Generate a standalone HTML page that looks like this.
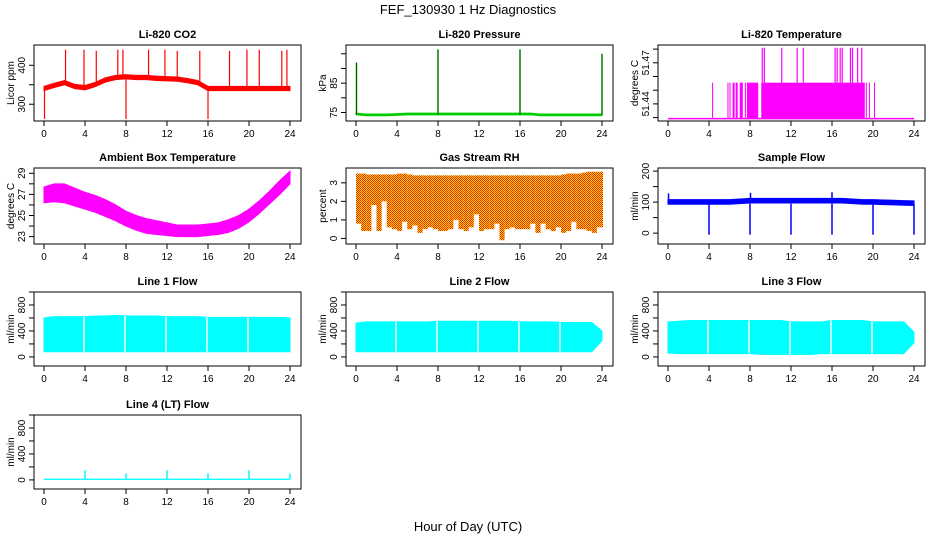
<!DOCTYPE html>
<html><head><meta charset="utf-8"><style>
html,body{margin:0;padding:0;background:#fff}
svg{display:block;font-family:"Liberation Sans",Arial,sans-serif}
.t{font-size:11px;font-weight:bold;text-anchor:middle}
.tk{font-size:10px;text-anchor:middle}
</style></head><body>
<svg id="c" width="936" height="540" viewBox="0 0 936 540" xmlns="http://www.w3.org/2000/svg">
<defs>
<pattern id="rhpat" width="2" height="2" patternUnits="userSpaceOnUse"><rect width="2" height="2" fill="#ffd800"/><rect width="1" height="1" fill="#f02000"/><rect x="1" y="1" width="1" height="1" fill="#f02000"/></pattern>
</defs>
<text x="468" y="14" font-size="13" text-anchor="middle">FEF_130930  1 Hz Diagnostics</text>
<text x="468" y="531" font-size="13" text-anchor="middle">Hour of Day (UTC)</text>
</svg>
<script>
// ---- data ----
const xTicks=[0,4,8,12,16,20,24];
const hours=[0,1,2,3,4,5,6,7,8,9,10,11,12,13,14,15,16,17,18,19,20,21,22,23,24];
const co2Base=[340,348,355,345,342,350,362,368,370,368,368,366,365,364,360,355,340,340,340,340,340,340,340,340,340];
const co2SpikeX=[0.05,2.1,3.9,5.1,7.2,7.7,8.0,10.2,11.8,13.0,15.2,16.0,18.1,19.8,21.0,23.2,23.7];
const co2SpikeY=[262,440,440,437,440,440,262,440,440,437,437,262,437,440,440,437,440];
const presBase=[74.5,74.2,74.2,74.2,74.3,74.5,74.5,74.5,74.5,74.5,74.5,74.5,74.5,74.5,74.5,74.5,74.5,74.5,74.2,74.2,74.2,74.2,74.2,74.2,74.2];
const presSpikeX=[0.05,8,16,24];
const presSpikeY=[92,96.5,96.5,95];
const tempBandStart=[4.3,5.8,6.0,6.3,6.6,7.0,7.5,7.7,9.1,19.3,19.6,20.1];
const tempBandEnd=[4.4,5.9,6.1,6.5,6.8,7.3,7.6,8.8,19.2,19.4,19.7,20.15];
const tempSpikeX=[9.2,9.4,11.1,12.6,13.2,16.3,16.5,16.8,17.0,17.8,18.0,18.5,18.9];
const ambUpper=[27.7,28,28,27.6,27.2,26.9,26.5,26,25.4,25,24.7,24.5,24.3,24.1,24.1,24.1,24.2,24.3,24.6,25,25.6,26.4,27.3,28.3,29.2];
const ambLower=[26.2,26.3,26.2,25.9,25.6,25.3,24.9,24.5,24,23.6,23.3,23.2,23.1,23.0,23.0,23.0,23.1,23.2,23.4,23.8,24.4,25.2,26.1,27,28];
const rhLower=[0.8,0.4,0.4,1.8,0.4,2.0,0.6,0.5,0.4,0.9,0.5,0.7,0.3,0.5,0.6,0.5,0.4,0.4,0.5,1.0,0.5,0.4,0.6,1.3,0.4,0.5,0.5,0.8,-0.1,0.5,0.6,0.5,0.5,0.5,0.8,0.3,0.8,0.5,0.4,0.6,0.3,0.4,0.9,0.5,0.5,0.4,0.3,0.6,0.6];
const rhUpper=[3.5,3.5,3.45,3.45,3.45,3.45,3.45,3.45,3.5,3.5,3.45,3.4,3.4,3.4,3.4,3.4,3.4,3.4,3.4,3.4,3.4,3.4,3.4,3.4,3.4,3.4,3.4,3.4,3.4,3.4,3.4,3.4,3.4,3.4,3.4,3.4,3.4,3.4,3.4,3.4,3.45,3.5,3.5,3.5,3.55,3.6,3.6,3.6,3.6];
const sfBase=[100,100,100,100,100,100,100,102,104,104,104,104,104,104,104,104,104,104,102,100,100,99,98,97,96];
const sfDipX=[4,8,12,16,20,24];
const sfDipY=[-5,-5,-5,-5,-5,-5];
const sfSpikeX=[0.05,8.05,16];
const sfSpikeY=[128,130,132];
const flowGaps=[4,8,12,16,20];
const l1Upper=[600,620,620,620,620,630,630,640,630,630,630,630,620,620,620,620,610,610,610,610,610,610,610,610,600];
const l1Lower=[80,80,80,80,80,80,80,80,80,80,80,80,80,80,80,80,80,80,80,80,80,80,80,80,80];
const l2Upper=[520,540,540,540,540,540,540,540,550,550,550,550,550,550,550,550,540,540,540,540,530,530,530,530,400];
const l2Lower=[80,80,80,80,80,80,80,80,80,80,80,80,80,80,80,80,80,80,80,80,80,80,80,80,250];
const l3Upper=[540,550,560,560,560,560,560,560,560,560,560,560,540,540,540,540,560,560,560,560,540,540,540,540,380];
const l3Lower=[60,50,50,50,50,50,50,50,50,40,40,40,40,40,40,50,50,50,50,50,50,50,50,50,220];
const l4SpikeX=[4,8,12,16,20,24];
const l4SpikeY=[150,100,150,100,150,100];

// ---- helpers ----
const NS="http://www.w3.org/2000/svg";
const svg=document.getElementById('c');
function el(tag,attrs,parent){const e=document.createElementNS(NS,tag);for(const k in attrs)e.setAttribute(k,attrs[k]);(parent||svg).appendChild(e);return e;}
const cols=[34,346,658], rows=[45,168,292,415], W=267, H=[76,76,74,74];
function panel(col,row,title,ylab,ymin,ymax,yTicks,yLabels,name){
  const L=cols[col],T=rows[row],B=T+H[row];
  const g=el('g',{});
  
  
  const sx=h=>L+10+h*(246/24);
  const sy=v=>B-(v-ymin)/(ymax-ymin)*(B-T);
  const plot=el('g',{},g);
  
  
  const bx=el('rect',{x:L,y:T,width:W,height:B-T,fill:'none',stroke:'#000','stroke-width':1},g);
  
  
  const tt=el('text',{x:L+W/2,y:T-7,class:'t'},g);tt.textContent=title;
  
  
  const xa=el('g',{},g);
  
  
  xTicks.forEach(h=>{const x=sx(h);el('line',{x1:x,x2:x,y1:B,y2:B+5,stroke:'#000'},xa);
    const t=el('text',{x:x,y:B+16,class:'tk'},xa);t.textContent=h;});
  const ya=el('g',{},g);
  
  
  yTicks.forEach((v,i)=>{const y=sy(v);el('line',{x1:L-5,x2:L,y1:y,y2:y,stroke:'#000'},ya);
    if(yLabels[i]!==''){const t=el('text',{x:L-9,y:y,class:'tk',transform:`rotate(-90 ${L-9} ${y})`},ya);t.textContent=yLabels[i];}});
  const yl=el('text',{x:L-20,y:(T+B)/2,class:'tk',transform:`rotate(-90 ${L-20} ${(T+B)/2})`},g);yl.textContent=ylab;
  
  
  return {sx,sy,plot,L,T,B};
}
function band(p,xs,lo,hi,fill,nm){
  let d='';
  xs.forEach((x,i)=>{d+=(i?'L':'M')+p.sx(x)+','+p.sy(hi[i]);});
  for(let i=xs.length-1;i>=0;i--)d+='L'+p.sx(xs[i])+','+p.sy(lo[i]);
  const e=el('path',{d:d+'Z',fill:fill,stroke:fill,'stroke-width':1},p.plot);
  
  
  return e;
}
function vline(p,x,y0,y1,col,nm,w){
  const e=el('line',{x1:p.sx(x),x2:p.sx(x),y1:p.sy(y0),y2:p.sy(y1),stroke:col,'stroke-width':w||1.2},p.plot);
  
  
}

// CO2
let p=panel(0,0,'Li-820 CO2','Licor ppm',257,452,[300,350,400],['300','','400'],'co2');
band(p,hours,co2Base.map(v=>v-5),co2Base.map(v=>v+6),'#ff0000','co2-band');
co2SpikeX.forEach((x,i)=>vline(p,x,co2Base[Math.round(x)],co2SpikeY[i],'#ff0000','co2-spike'));
// Pressure
p=panel(1,0,'Li-820 Pressure','kPa',72.1,94.5+3.5,[75,80,85,90,95],['75','','85','',''],'pressure');
band(p,hours,presBase.map(v=>v-0.3),presBase.map(v=>v+0.3),'#00cc00','pressure-band');
presSpikeX.forEach((x,i)=>vline(p,x,74.2,presSpikeY[i],'#00cc00','pressure-spike',1.5));
presSpikeX.forEach((x,i)=>vline(p,x,74.2,presSpikeY[i],'#000','pressure-spike-dots',0.6));
// Temperature
p=panel(2,0,'Li-820 Temperature','degrees C',51.4275,51.4830,[51.43,51.44,51.45,51.46,51.47,51.48],['','51.44','','','51.47',''],'licor-temp');
{const e=el('line',{x1:p.sx(0),x2:p.sx(24),y1:p.sy(51.4292),y2:p.sy(51.4292),stroke:'#ff00ff','stroke-width':1.5},p.plot);

}
tempBandStart.forEach((s,i)=>{const e=el('rect',{x:p.sx(s),y:p.sy(51.4555),width:Math.max(1,p.sx(tempBandEnd[i])-p.sx(s)),height:p.sy(51.4292)-p.sy(51.4555),fill:'#ff00ff'},p.plot);

});
tempSpikeX.forEach(x=>vline(p,x,51.4555,51.481,'#ff00ff','temp-spike'));
// Ambient
p=panel(0,1,'Ambient Box Temperature','degrees C',22.3,29.5,[23,24,25,26,27,28,29],['23','','25','','27','','29'],'ambient');
band(p,hours,ambLower,ambUpper,'#ff00ff','ambient-band');
// RH
p=panel(1,1,'Gas Stream RH','percent',-0.3,3.8,[0,1,2,3],['0','1','2','3'],'rh');
rhLower.forEach((v,i)=>{const x0=p.sx(i*0.5),x1=p.sx(Math.min(24,i*0.5+0.5));
const e=el('rect',{x:x0,y:p.sy(rhUpper[i]),width:Math.max(1,x1-x0),height:p.sy(v)-p.sy(rhUpper[i]),fill:'url(#rhpat)'},p.plot);

});
// Sample flow
p=panel(2,1,'Sample Flow','ml/min',-35,210,[0,50,100,150,200],['0','','100','','200'],'sample-flow');
band(p,hours,sfBase.map(v=>v-7),sfBase.map(v=>v+8),'#0000ff','sample-flow-band');
sfDipX.forEach((x,i)=>vline(p,x,95,sfDipY[i],'#0000ff','sample-flow-dip',1.5));
sfSpikeX.forEach((x,i)=>vline(p,x,100,sfSpikeY[i],'#0000ff','sample-flow-spike',1.5));
// Line flows
function flowPanel(col,row,title,up,lo,name){
  const q=panel(col,row,title,'ml/min',-140,1000,[0,200,400,600,800,1000],['0','','400','','800',''],name);
  band(q,hours,lo,up,'#00ffff',name+'-band');
  flowGaps.forEach(x=>vline(q,x-0.1,lo[x],up[x],'#ffffff',name+'-gap',1.5));
  return q;
}
flowPanel(0,2,'Line 1 Flow',l1Upper,l1Lower,'line1-flow');
flowPanel(1,2,'Line 2 Flow',l2Upper,l2Lower,'line2-flow');
flowPanel(2,2,'Line 3 Flow',l3Upper,l3Lower,'line3-flow');
p=panel(0,3,'Line 4 (LT) Flow','ml/min',-140,1000,[0,200,400,600,800,1000],['0','','400','','800',''],'line4-flow');
{const e=el('rect',{x:p.sx(0),y:p.sy(20),width:p.sx(24)-p.sx(0),height:p.sy(0)-p.sy(20),fill:'#00ffff'},p.plot);

}
l4SpikeX.forEach((x,i)=>vline(p,x,10,l4SpikeY[i],'#00ffff','line4-flow-spike',1.5));
</script>
</body></html>
